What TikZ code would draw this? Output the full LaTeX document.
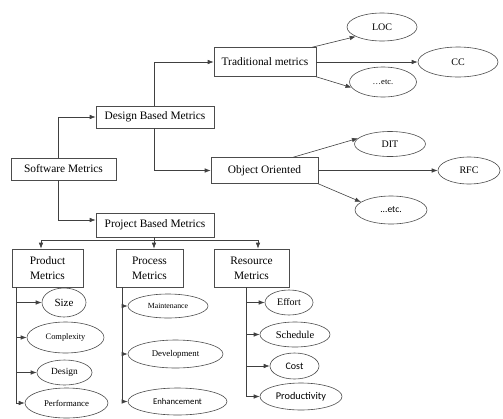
\documentclass[tikz,border=0pt]{standalone}
\usepackage{fontspec}
\setmainfont{Liberation Serif}
\newfontfamily\calibri{Carlito}
\usepackage{tikz}
\usetikzlibrary{arrows,arrows.meta,shapes}
\tikzstyle{box} = [draw=black!70, rectangle, line width=0.6pt, inner sep=0pt,
    align=center, font=\fontsize{11.4}{15}\selectfont]
\tikzstyle{oval} = [draw=black!70, ellipse, line width=0.6pt, inner sep=0pt]
\tikzstyle{arr} = [-{Latex[length=6pt,width=4.5pt]}, draw=black!75, line width=0.6pt]

\begin{document}
\begin{tikzpicture}[x=1pt, y=-1pt]
  \useasboundingbox (0,0) rectangle (503,418);
  % Place nodes
  \node [box, minimum width=105pt, minimum height=22pt] (sw) at (63.5,169) {Software Metrics};
  \node [box, minimum width=118pt, minimum height=22pt] (design) at (155,117) {Design Based Metrics};
  \node [box, minimum width=102pt, minimum height=29pt] (trad) at (265,62) {Traditional metrics};
  \node [box, minimum width=107pt, minimum height=26pt] (oo) at (264.5,170.5) {Object Oriented};
  \node [box, minimum width=118pt, minimum height=24pt] (project) at (155,225) {Project Based Metrics};
  \node [box, minimum width=71pt, minimum height=38pt] (product) at (47.5,268) {Product\\Metrics};
  \node [box, minimum width=67pt, minimum height=38pt] (process) at (149.5,268) {Process\\Metrics};
  \node [box, minimum width=75pt, minimum height=38pt] (resource) at (251.5,268) {Resource\\Metrics};

  % design based leaves
  \node [oval, minimum width=70pt, minimum height=28pt, font=\fontsize{10}{12}\selectfont] (loc) at (382,27) {LOC};
  \node [oval, minimum width=80pt, minimum height=30pt, font=\fontsize{10}{12}\selectfont] (cc) at (458,62) {CC};
  \node [oval, minimum width=67pt, minimum height=30pt, font=\fontsize{8.5}{10}\selectfont] (etca) at (383,82) {\ldots etc.};
  \node [oval, minimum width=71pt, minimum height=25pt, font=\fontsize{10}{12}\selectfont] (dit) at (390,144) {DIT};
  \node [oval, minimum width=62pt, minimum height=27pt, font=\fontsize{10}{12}\selectfont] (rfc) at (469,170.5) {RFC};
  \node [oval, minimum width=72pt, minimum height=28pt, font=\calibri\fontsize{9.5}{11}\selectfont] (etcb) at (391,210) {...etc.};

  % project based leaves
  \node [oval, minimum width=44pt, minimum height=29pt, font=\fontsize{11}{13}\selectfont] (size) at (64,302.5) {Size};
  \node [oval, minimum width=77pt, minimum height=31pt, font=\fontsize{8.4}{10}\selectfont] (complexity) at (65.5,337.5) {Complexity};
  \node [oval, minimum width=55pt, minimum height=25pt, font=\fontsize{9.4}{11}\selectfont] (dsgn) at (64.5,372.5) {Design};
  \node [oval, minimum width=83pt, minimum height=30pt, font=\fontsize{8.8}{10}\selectfont] (perf) at (66.5,403) {Performance};
  \node [oval, minimum width=80pt, minimum height=24pt, font=\fontsize{7.8}{9}\selectfont] (maint) at (168,306) {Maintenance};
  \node [oval, minimum width=95pt, minimum height=28pt, font=\fontsize{8.8}{10}\selectfont] (devel) at (175.5,354) {Development};
  \node [oval, minimum width=99pt, minimum height=27pt, font=\calibri\fontsize{8.7}{10}\selectfont] (enh) at (177.5,401.5) {Enhancement};
  \node [oval, minimum width=48pt, minimum height=25pt, font=\fontsize{10}{12}\selectfont] (effort) at (289,302.5) {Effort};
  \node [oval, minimum width=70pt, minimum height=25pt, font=\fontsize{10.5}{12}\selectfont] (sched) at (295,334.5) {Schedule};
  \node [oval, minimum width=49pt, minimum height=26pt, font=\calibri\fontsize{10}{12}\selectfont] (cost) at (294.5,366) {Cost};
  \node [oval, minimum width=82pt, minimum height=27pt, font=\calibri\fontsize{10.3}{12}\selectfont] (prodty) at (301,396.5) {Productivity};

  % Draw edges
  \draw [arr] ([xshift=-5.5pt]sw.north) |- (design.west);
  \draw [arr] ([xshift=-5.5pt]sw.south) |- ([yshift=5pt]project.west);
  \draw [arr] ([xshift=-1pt]design.north) |- (trad.west);
  \draw [arr] ([xshift=-1pt]design.south) |- (oo.west);
  \draw [arr] ([xshift=-4pt]trad.north east) -- (loc.200);
  \draw [arr] (trad.east) -- (cc.west);
  \draw [arr] (trad.south east) -- (etca.190);
  \draw [arr] ([xshift=-25pt]oo.north east) -- (dit.170);
  \draw [arr] (oo.east) -- (rfc.west);
  \draw [arr] (oo.south east) -- (etcb.165);

  \coordinate (split) at ([yshift=-3pt]project.south);
  \draw [draw=black!75, line width=0.6pt] ([xshift=-1pt]project.south) -- ([xshift=-1pt]split);
  \draw [arr] (split) -| ([xshift=-6.5pt]product.north);
  \draw [arr] (split) -| ([xshift=4.5pt]process.north);
  \draw [arr] (split) -| ([xshift=6.5pt]resource.north);

  \coordinate (prodbus) at ([xshift=5pt]product.south west);
  \coordinate (procbus) at ([xshift=6.5pt]process.south west);
  \coordinate (resbus) at ([xshift=33pt]resource.south west);
  \foreach \leaf in {size,complexity,dsgn,perf}
    \draw [arr] (prodbus) |- (\leaf.west);
  \foreach \leaf in {maint,devel,enh}
    \draw [arr] (procbus) |- (\leaf.west);
  \foreach \leaf in {effort,sched,cost,prodty}
    \draw [arr] (resbus) |- (\leaf.west);
\end{tikzpicture}
\end{document}
